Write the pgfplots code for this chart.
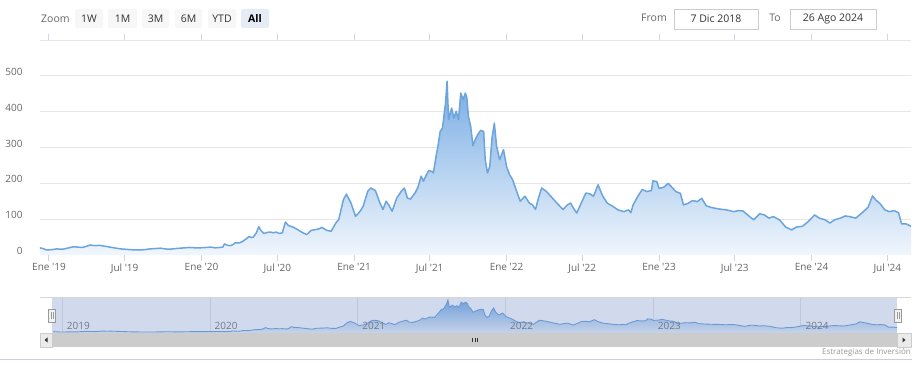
\documentclass[border=0pt]{standalone}
\usepackage{pgfplots}
\pgfplotsset{compat=1.18}
\usepackage{pgfplotstable}
\usepackage{fontspec}
\setmainfont{Open Sans}
\definecolor{lineblue}{RGB}{108,164,220}
\definecolor{filltop}{RGB}{120,172,228}
\definecolor{fillbot}{RGB}{240,246,252}
\definecolor{gridc}{RGB}{230,230,230}
\definecolor{tickc}{RGB}{204,214,235}
\definecolor{labc}{RGB}{102,102,102}
\definecolor{maskc}{RGB}{102,133,194}
\definecolor{btnc}{RGB}{247,247,247}
\definecolor{btnsel}{RGB}{230,235,245}
\definecolor{darkt}{RGB}{51,51,51}
\definecolor{boxc}{RGB}{204,204,204}
\definecolor{navlab}{RGB}{115,120,135}
\definecolor{botline}{RGB}{204,204,228}
\definecolor{trackc}{RGB}{242,242,242}
\definecolor{sbbtn}{RGB}{235,235,235}
\definecolor{handc}{RGB}{153,153,153}
\definecolor{outl}{RGB}{215,215,215}
\pgfplotstableread{
x y
2018.94 20
2018.96 18
2018.985 14
2019.02 15
2019.05 17
2019.09 16
2019.13 20
2019.16 23
2019.19 22
2019.22 21
2019.25 25
2019.27 28
2019.30 26
2019.33 27
2019.36 25
2019.40 22
2019.44 19
2019.47 17
2019.50 16
2019.53 15
2019.57 14
2019.60 14
2019.63 15
2019.66 17
2019.70 18
2019.73 19
2019.76 17
2019.79 16
2019.83 18
2019.86 19
2019.89 20
2019.92 21
2019.96 20
2019.99 20
2020.03 21
2020.06 22
2020.09 20
2020.12 21
2020.14 22
2020.15 31
2020.17 27
2020.19 26
2020.21 30
2020.22 34
2020.25 34
2020.27 38
2020.29 44
2020.31 51
2020.33 49
2020.34 50
2020.36 62
2020.375 79
2020.39 68
2020.41 60
2020.43 63
2020.45 64
2020.47 62
2020.49 64
2020.51 60
2020.53 62
2020.55 92
2020.57 82
2020.60 78
2020.63 71
2020.66 63
2020.69 57
2020.72 69
2020.75 71
2020.77 73
2020.79 77
2020.82 69
2020.85 66
2020.88 89
2020.90 99
2020.93 154
2020.95 170
2020.98 145
2021.01 108
2021.04 122
2021.06 136
2021.09 178
2021.11 187
2021.14 180
2021.17 145
2021.19 127
2021.21 150
2021.23 138
2021.25 122
2021.28 159
2021.31 178
2021.33 187
2021.35 159
2021.37 156
2021.40 173
2021.42 190
2021.44 220
2021.455 206
2021.47 220
2021.49 236
2021.51 233
2021.52 229
2021.54 280
2021.55 303
2021.565 345
2021.58 354
2021.60 424
2021.61 485
2021.62 378
2021.64 410
2021.655 382
2021.67 401
2021.685 378
2021.70 452
2021.715 434
2021.73 452
2021.74 438
2021.75 387
2021.765 359
2021.78 305
2021.795 322
2021.81 335
2021.83 348
2021.85 345
2021.86 266
2021.875 229
2021.89 247
2021.905 327
2021.92 368
2021.935 303
2021.955 266
2021.98 294
2022.00 247
2022.02 224
2022.04 210
2022.07 173
2022.09 150
2022.12 164
2022.15 145
2022.17 140
2022.19 127
2022.21 160
2022.23 187
2022.26 178
2022.29 164
2022.33 145
2022.37 127
2022.40 140
2022.42 145
2022.44 130
2022.46 117
2022.49 145
2022.52 173
2022.55 170
2022.57 164
2022.60 196
2022.63 165
2022.66 145
2022.70 135
2022.73 126
2022.77 121
2022.80 126
2022.815 118
2022.83 140
2022.86 163
2022.89 183
2022.92 177
2022.95 180
2022.96 207
2022.985 205
2023.00 186
2023.03 189
2023.06 200
2023.08 191
2023.11 177
2023.14 172
2023.16 140
2023.19 144
2023.22 152
2023.25 149
2023.28 158
2023.31 137
2023.34 133
2023.36 131
2023.40 128
2023.44 126
2023.49 121
2023.52 124
2023.55 123
2023.58 112
2023.62 98
2023.66 115
2023.69 112
2023.72 103
2023.75 107
2023.79 98
2023.83 78
2023.87 70
2023.90 78
2023.94 80
2023.98 94
2024.02 112
2024.05 103
2024.09 98
2024.12 89
2024.15 98
2024.19 103
2024.22 109
2024.25 107
2024.29 103
2024.34 121
2024.37 133
2024.40 165
2024.42 154
2024.45 143
2024.48 126
2024.51 121
2024.54 124
2024.57 118
2024.59 87
2024.62 87
2024.652 80
}\pricedata
\begin{document}
\begin{tikzpicture}[x=1pt,y=1pt]
\path[use as bounding box, fill=white] (0,0) rectangle (919,372);
% ---- main chart ----
\begin{axis}[
  at={(40pt,117pt)}, anchor=south west, scale only axis,
  width=871pt, height=215pt,
  xmin=2018.941, xmax=2024.652, ymin=0, ymax=600,
  axis line style={draw=none},
  ymajorgrids, major grid style={draw=gridc, line width=1pt},
  ytick={0,100,200,300,400,500,600},
  yticklabels={0,100,200,300,400,500,{}},
  ytick style={draw=none},
  xtick={2019,2019.496,2020,2020.497,2021,2021.496,2022,2022.496,2023,2023.496,2024,2024.497},
  xticklabels={Ene \textquotesingle19,Jul \textquotesingle19,Ene \textquotesingle20,Jul \textquotesingle20,Ene \textquotesingle21,Jul \textquotesingle21,Ene \textquotesingle22,Jul \textquotesingle22,Ene \textquotesingle23,Jul \textquotesingle23,Ene \textquotesingle24,Jul \textquotesingle24},
  xtick style={draw=tickc, line width=1pt},
  tick align=outside, major tick length=6pt,
  xticklabel style={font=\fontsize{10}{12}\selectfont, text=labc, yshift=1pt},
  yticklabel style={font=\fontsize{10}{12}\selectfont, text=labc, anchor=east, xshift=-8pt, yshift=4pt},
]
\addplot[draw=none, top color=filltop, bottom color=fillbot] table[x=x,y=y] {\pricedata} \closedcycle;
\addplot[draw=lineblue, line width=1.5pt, line join=round, no marks] table[x=x,y=y] {\pricedata};
\end{axis}
% ---- navigator outline ----
\draw[outl, line width=0.8pt] (40,74.5) -- (911,74.5);
% ---- navigator ----
\begin{axis}[
  at={(52pt,39pt)}, anchor=south west, scale only axis,
  width=845pt, height=35pt,
  xmin=2018.93, xmax=2024.65, ymin=0, ymax=515,
  axis line style={draw=none},
  xtick={2019,2020,2021,2022,2023,2024}, xticklabels={},
  ytick=\empty, xtick style={draw=none},
  xmajorgrids, major grid style={draw=gridc, line width=1pt},
]
\addplot[draw=none, top color=filltop, bottom color=fillbot] table[x=x,y=y] {\pricedata} \closedcycle;
\addplot[draw=lineblue, line width=0.9pt, no marks] table[x=x,y=y] {\pricedata};
\fill[maskc, opacity=0.3] (rel axis cs:0,0) rectangle (rel axis cs:1,1);
\node[anchor=west, inner sep=0, font=\fontsize{10}{12}\selectfont, text=navlab] at (axis cs:2019.03,103) {2019};
\node[anchor=west, inner sep=0, font=\fontsize{10}{12}\selectfont, text=navlab] at (axis cs:2020.03,103) {2020};
\node[anchor=west, inner sep=0, font=\fontsize{10}{12}\selectfont, text=navlab] at (axis cs:2021.03,103) {2021};
\node[anchor=west, inner sep=0, font=\fontsize{10}{12}\selectfont, text=navlab] at (axis cs:2022.03,103) {2022};
\node[anchor=west, inner sep=0, font=\fontsize{10}{12}\selectfont, text=navlab] at (axis cs:2023.03,103) {2023};
\node[anchor=west, inner sep=0, font=\fontsize{10}{12}\selectfont, text=navlab] at (axis cs:2024.03,103) {2024};
\end{axis}
% ---- scrollbar ----
\fill[trackc] (40,25) rectangle (911,39);
\fill[boxc] (52,25) rectangle (897,39);
\filldraw[fill=sbbtn, draw=boxc] (40,25) rectangle (52,39);
\filldraw[fill=sbbtn, draw=boxc] (897,25) rectangle (911,39);
\fill[darkt] (44.5,32) -- (47.5,34.5) -- (47.5,29.5) -- cycle;
\fill[darkt] (905.5,32) -- (902.5,34.5) -- (902.5,29.5) -- cycle;
\foreach \gx in {472.5,475,477.5}{\draw[darkt, line width=0.8pt] (\gx,30) -- (\gx,34);}
% ---- handles ----
\filldraw[fill=trackc, draw=handc] (48.5,50) rectangle (55.5,63);
\draw[handc] (51,53) -- (51,60) (53,53) -- (53,60);
\filldraw[fill=trackc, draw=handc] (894.5,50) rectangle (901.5,63);
\draw[handc] (897,53) -- (897,60) (899,53) -- (899,60);
% ---- bottom line & credits ----
\draw[botline, line width=1pt] (0,12) -- (912,12);
\node[anchor=east, inner sep=0, font=\fontsize{8}{10}\selectfont, text=handc] at (911,19.3) {Estrategias de Inversión};
% ---- range selector ----
\node[anchor=west, inner sep=0, font=\fontsize{10.5}{12}\selectfont, text=labc] at (41,353.5) {Zoom};
\foreach \xa/\xb/\lab in {75/103/1W,108/137/1M,142/169/3M,175/202/6M,208/236/YTD}{
  \fill[btnc, rounded corners=2pt] (\xa,344) rectangle (\xb,363);
  \node[inner sep=0, font=\fontsize{10.5}{12}\selectfont, text=darkt] at ({(\xa+\xb)/2},353.5) {\lab};
}
\fill[btnsel, rounded corners=2pt] (241,344) rectangle (269,363);
\node[inner sep=0, font=\fontsize{10.5}{12}\selectfont\bfseries, text=black] at (255,353.5) {All};
\node[inner sep=0, font=\fontsize{10.5}{12}\selectfont, text=labc] at (654,354) {From};
\filldraw[fill=white, draw=boxc] (674,343) rectangle (758,363);
\node[inner sep=0, font=\fontsize{10.5}{12}\selectfont, text=darkt] at (716,353.5) {7 Dic 2018};
\node[inner sep=0, font=\fontsize{10.5}{12}\selectfont, text=labc] at (775,354) {To};
\filldraw[fill=white, draw=boxc] (790,343) rectangle (876,363);
\node[inner sep=0, font=\fontsize{10.5}{12}\selectfont, text=darkt] at (833,353.5) {26 Ago 2024};
\end{tikzpicture}
\end{document}
